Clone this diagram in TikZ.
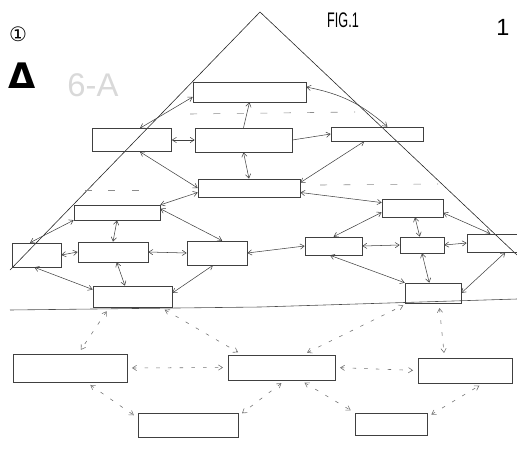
\documentclass[tikz,border=0pt]{standalone}
\usepackage{fontspec}
\setmainfont{Liberation Sans}
\newfontfamily\symfont{DejaVu Sans}
\usetikzlibrary{arrows.meta}
\begin{document}
\begin{tikzpicture}[
    x=0.03cm, y=-0.03cm,
    >={Straight Barb[length=3.5pt,width=4.5pt]},
    sketchbox/.style={draw=black!75, line width=0.5pt, inner sep=0pt},
    link/.style={<->, black!75, line width=0.45pt},
    dotlink/.style={<->, black!55, line width=0.5pt, dash pattern=on 3pt off 7pt, shorten <=4pt, shorten >=4pt},
    guide/.style={black!45, line width=0.5pt, dash pattern=on 6pt off 14pt},
]
    \def\px{0.03cm} % 1 px of the sheet
    \useasboundingbox (0,0) rectangle (517,453);

    % the big triangle and the ground line
    \draw[black!85, line width=0.5pt] (10,270) -- (260,12) -- (517,255);
    \draw[black!70, line width=0.5pt] (10,310) -- (260,307) -- (517,299);
    \draw[guide] (190,114) -- (355,112);
    \draw[guide] (85,190) -- (155,190);
    \draw[guide] (320,185) -- (438,184);

    % boxes: name/centre x/centre y/width/height
    \foreach \nm/\cx/\cy/\w/\h in {%
        n1/249.5/92/113/20,%
        n2a/132/140/79/23,%
        n2b/243.5/140/97/24,%
        n2c/377/134/92/14,%
        n3/249/188/102/18,%
        n4l/117/212.5/86/15,%
        n4r/412.5/208/61/18,%
        n5a/36.5/255/49/24,%
        n5b/113/252/70/20,%
        n5c/217/253/60/24,%
        n5d/333.5/246/57/18,%
        n5e/422/245/44/16,%
        n5f/492/243/50/18,%
        n6l/132.5/296.5/79/21,%
        n6r/433/293/56/20,%
        n7a/70/368/114/28,%
        n7b/281.5/367.5/107/25,%
        n7c/465/370.5/94/25,%
        n8a/188/425/100/24,%
        n8b/391/424/72/22%
    }{
        \node[sketchbox, minimum width=\w*\px, minimum height=\h*\px] (\nm) at (\cx,\cy) {};
    }

    % solid links above the ground line
    \foreach \a/\b in {%
        n1.185/n2a.56, n2a.east/n2b.west, n2b.south/n3.north,%
        n2a.-56/n3.west, n2c.210/n3.6, n3.185/n4l.10, n3.-5/n4r.170,%
        n4l.south/n5b.north, n4l.5/n5c.67, n4l.-170/n5a.118,%
        n5a.east/n5b.west, n5b.east/n5c.west, n5b.-70/n6l.125,%
        n5a.-100/n6l.170, n5c.252/n6l.5, n5c.east/n5d.west,%
        n5d.north/n4r.188, n5d.east/n5e.west, n4r.-75/n5e.105,%
        n4r.-9/n5f.100, n5e.south/n6r.110, n5d.-111/n6r.north west,%
        n5f.-35/n6r.east, n5e.east/n5f.west%
    }{
        \draw[link] (\a) -- (\b);
    }
    \draw[link] (n1.5) to[bend left=15] (n2c.35);
    \draw[link, <-] (n1.south) -- (n2b.north);
    \draw[link, ->] (n2b.east) -- (n2c.west);

    % dotted links below the ground line
    \foreach \a/\b in {%
        n6l.205/n7a.60, n6l.-21/n7b.162, n7a.east/n7b.west,%
        n7a.-41/n8a.172, n7b.-74/n8a.10, n7b.31/n6r.202,%
        n6r.-60/n7c.148, n7b.east/n7c.west, n7b.-34/n8b.north west,%
        n8b.11/n7c.-35%
    }{
        \draw[dotlink] (\a) -- (\b);
    }

    % marks on the sheet
    \node[font=\symfont\fontsize{17}{17}\selectfont] (circ) at (18,34) {①};
    \node[font=\symfont\bfseries\fontsize{30}{30}\selectfont] (delta) at (22,76) {Δ};
    \node[text=black!15, font=\fontsize{28}{28}\selectfont] (tag) at (93,85) {6-A};
    \node[font=\fontsize{18}{18}\selectfont] (fig) at (343,20) {\scalebox{0.6}[1]{FIG.1}};
    \node[font=\fontsize{20}{20}\selectfont] (page) at (503,27) {1};
\end{tikzpicture}
\end{document}
